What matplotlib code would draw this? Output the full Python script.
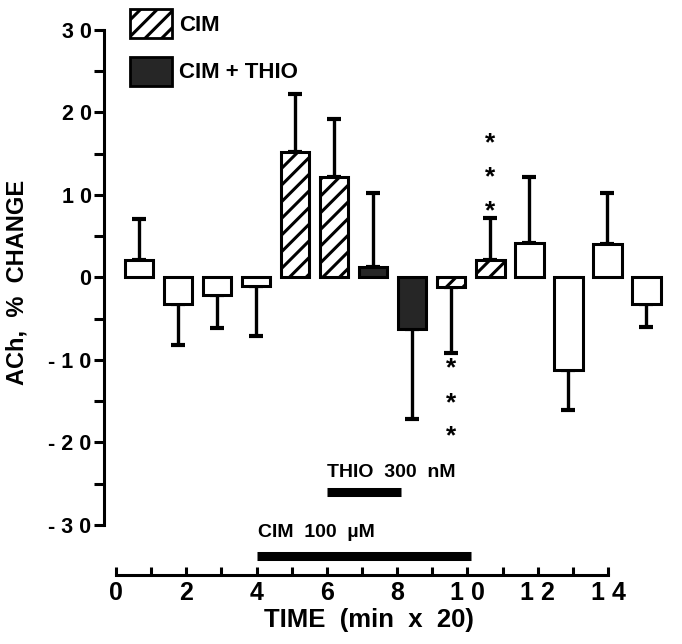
import numpy as np
import matplotlib
matplotlib.use('Agg')
import matplotlib.pyplot as plt
from matplotlib.patches import Patch
from matplotlib.transforms import offset_copy

plt.rcParams['font.family'] = ['Liberation Sans', 'DejaVu Sans']
plt.rcParams['font.weight'] = 'bold'
plt.rcParams['axes.labelweight'] = 'bold'
plt.rcParams['hatch.linewidth'] = 2.2

# data: ACh % change per 20-min sample
samples = np.arange(1, 15)
values = [2.1, -3.2, -2.1, -1.1, 15.2, 12.2, 1.2, -6.3, -1.2, 2.1, 4.2, -11.2, 4.1, -3.2]
sem = [5, 5, 4, 6, 7, 7, 9, 10.8, 7.9, 5.1, 7.9, 4.9, 6.1, 2.8]
groups = ['ctrl', 'ctrl', 'ctrl', 'ctrl', 'cim', 'cim', 'thio', 'thio',
          'cim', 'cim', 'ctrl', 'ctrl', 'ctrl', 'ctrl']
star_up = [16.7, 12.6, 8.5]        # above sample 10
star_down = [-10.5, -14.8, -18.8]  # below sample 9

yticks = [30, 20, 10, 0, -10, -20, -30]
ytick_labels = ['3 0', '2 0', '1 0', '0', '- 1 0', '- 2 0', '- 3 0']
xticks = [0, 2, 4, 6, 8, 10, 12, 14]
xtick_labels = ['0', '2', '4', '6', '8', '1 0', '1 2', '1 4']

# treatment periods on time axis
thio_period = (6, 8.1)
cim_period = (4, 10.1)

W, H = 682, 644
fig = plt.figure(figsize=(W / 100, H / 100), dpi=100)

# main bar axes
ax = fig.add_axes([104 / W, (H - 530) / H, (W - 104) / W, 530 / H])
ax.patch.set_alpha(0)
ax.set_xlim(0.103, 14.92)
ax.set_ylim(-30.6, 33.6)

styles = {
    'ctrl': dict(facecolor='white', hatch=None),
    'cim': dict(facecolor='white', hatch='//'),
    'thio': dict(facecolor='#262626', hatch=None),
}
for x, v, g in zip(samples, values, groups):
    ax.bar(x, v, width=0.74, edgecolor='black', linewidth=2.2, zorder=3, **styles[g])

vals = np.array(values)
errs = np.array(sem)
lower = np.where(vals < 0, errs, 0)
upper = np.where(vals >= 0, errs, 0)
ax.errorbar(samples, vals, yerr=[lower, upper], fmt='none', ecolor='black',
            elinewidth=2.4, capsize=4.7, capthick=3, zorder=2)

# asterisk glyph sits high in its box, nudge it down
star_tr = offset_copy(ax.transData, fig=fig, y=-4, units='dots')
for s in star_up:
    ax.text(10, s, '*', ha='center', va='center', fontsize=19, zorder=4, transform=star_tr)
for s in star_down:
    ax.text(9, s, '*', ha='center', va='center', fontsize=19, zorder=4, transform=star_tr)

for side in ['top', 'right', 'bottom']:
    ax.spines[side].set_visible(False)
ax.spines['left'].set_bounds(-30, 30)
ax.spines['left'].set_linewidth(2.2)
ax.set_xticks([])
ax.set_yticks(yticks)
ax.set_yticklabels(ytick_labels, fontsize=15.5, fontweight='bold')
ax.set_yticks(np.arange(-25, 30, 10), minor=True)
ax.tick_params(axis='y', which='both', direction='out', length=7, width=2.2, pad=2)
ax.set_ylabel('ACh,  %  CHANGE', fontsize=17, fontweight='bold')
ax.yaxis.set_label_coords(-0.13, 0.468)

handles = [Patch(facecolor='white', edgecolor='black', hatch='//', linewidth=2),
           Patch(facecolor='#262626', edgecolor='black', linewidth=2)]
fig.legend(handles, ['CIM', 'CIM + THIO'], loc='upper left',
           bbox_to_anchor=(130 / W, 1 - 9 / H), bbox_transform=fig.transFigure,
           frameon=False, prop=dict(size=16, weight='bold'), handlelength=1.9,
           handleheight=1.62, handletextpad=0.3, labelspacing=0.85,
           borderpad=0, borderaxespad=0)

# time axis with treatment bars
ax2 = fig.add_axes([116 / W, (H - 575) / H, 492 / W, 125 / H])
ax2.patch.set_alpha(0)
ax2.set_xlim(0, 14)
ax2.set_ylim(0, 1)
ax2.plot(thio_period, [0.664, 0.664], color='black', linewidth=6.5, solid_capstyle='butt')
ax2.plot(cim_period, [0.152, 0.152], color='black', linewidth=6.5, solid_capstyle='butt')
ax2.text(thio_period[0], 0.82, 'THIO  300  nM', fontsize=14, ha='left', va='center',
         fontweight='bold')
ax2.text(cim_period[0] + 0.05, 0.34, 'CIM  100  µM', fontsize=14, ha='left', va='center',
         fontweight='bold')
for side in ['top', 'right', 'left']:
    ax2.spines[side].set_visible(False)
ax2.spines['bottom'].set_linewidth(2.2)
ax2.set_yticks([])
ax2.set_xticks(xticks)
ax2.set_xticklabels(xtick_labels, fontsize=18, fontweight='bold')
ax2.set_xticks(np.arange(1, 14, 2), minor=True)
ax2.tick_params(axis='x', which='both', direction='in', length=6, width=2.2, pad=4)
ax2.set_xlabel('TIME  (min  x  20)', fontsize=18.5, fontweight='bold', labelpad=3)
ax2.xaxis.set_label_coords(0.514, -0.26)

fig.savefig('out.png', dpi=100)
